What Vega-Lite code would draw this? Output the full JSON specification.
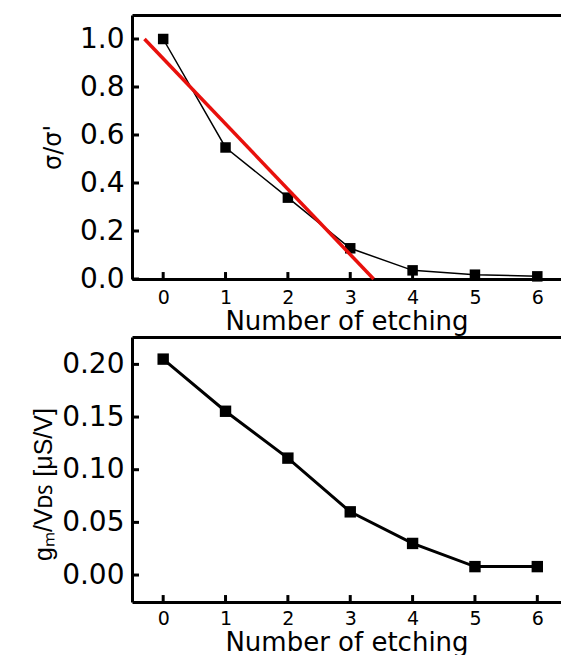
{
  "$schema": "https://vega.github.io/schema/vega-lite/v6.json",
  "padding": {"left": 31, "top": 15, "right": 0, "bottom": 0},
  "background": "white",
  "config": {
    "view": {"stroke": null},
    "font": "DejaVu Sans",
    "axis": {
      "grid": false,
      "domainColor": "black",
      "domainWidth": 3,
      "ticks": false,
      "tickSize": 0,
      "labelColor": "black",
      "titleColor": "black",
      "labelFont": "DejaVu Sans",
      "titleFont": "DejaVu Sans",
      "titleFontWeight": "normal"
    }
  },
  "datasets": {
    "sigma": [
      {"n": 0, "v": 1.0},
      {"n": 1, "v": 0.548},
      {"n": 2, "v": 0.339},
      {"n": 3, "v": 0.128},
      {"n": 4, "v": 0.036},
      {"n": 5, "v": 0.018},
      {"n": 6, "v": 0.011}
    ],
    "fit": [
      {"n": -0.3, "v": 1.0},
      {"n": 3.375, "v": 0.0}
    ],
    "gm": [
      {"n": 0, "v": 0.205},
      {"n": 1, "v": 0.1555},
      {"n": 2, "v": 0.111},
      {"n": 3, "v": 0.060},
      {"n": 4, "v": 0.030},
      {"n": 5, "v": 0.008},
      {"n": 6, "v": 0.008}
    ],
    "xticks": [{"t": 0}, {"t": 1}, {"t": 2}, {"t": 3}, {"t": 4}, {"t": 5}, {"t": 6}],
    "yticksA": [{"t": 0}, {"t": 0.2}, {"t": 0.4}, {"t": 0.6}, {"t": 0.8}, {"t": 1.0}],
    "yticksB": [{"t": 0}, {"t": 0.05}, {"t": 0.1}, {"t": 0.15}, {"t": 0.2}]
  },
  "bounds": "flush",
  "spacing": 58,
  "vconcat": [
    {
      "width": 429,
      "height": 264,
      "resolve": {"axis": {"x": "independent", "y": "independent"}},
      "layer": [
        {
          "data": {"name": "sigma"},
          "mark": {"type": "line", "color": "black", "strokeWidth": 1.5,
                   "point": {"shape": "square", "size": 110, "filled": true, "color": "black"}},
          "encoding": {
            "x": {"field": "n", "type": "quantitative",
                  "scale": {"domain": [-0.5, 6.38], "nice": false, "zero": false},
                  "axis": {"orient": "bottom", "values": [0, 1, 2, 3, 4, 5, 6], "format": "d", "labelFontSize": 19,
                           "labelPadding": 9, "title": "Number of etching", "titleFontSize": 26, "titlePadding": 1}},
            "y": {"field": "v", "type": "quantitative",
                  "scale": {"domain": [0, 1.1], "nice": false},
                  "axis": {"orient": "left", "values": [0, 0.2, 0.4, 0.6, 0.8, 1.0], "format": ".1f", "labelFontSize": 28,
                           "labelPadding": 8, "title": "σ/σ'", "titleFontSize": 24, "titlePadding": 14}}
          }
        },
        {
          "data": {"name": "xticks"},
          "mark": {"type": "rule", "color": "black", "strokeWidth": 3},
          "encoding": {
            "x": {"field": "t", "type": "quantitative", "axis": null},
            "y": {"datum": 0, "type": "quantitative", "axis": null},
            "y2": {"datum": 0.029}
          }
        },
        {
          "data": {"name": "yticksA"},
          "mark": {"type": "rule", "color": "black", "strokeWidth": 3},
          "encoding": {
            "y": {"field": "t", "type": "quantitative", "axis": null},
            "x": {"datum": -0.5, "type": "quantitative", "axis": null},
            "x2": {"datum": -0.388}
          }
        },
        {
          "data": {"name": "fit"},
          "mark": {"type": "line", "color": "#e8100c", "strokeWidth": 3.5},
          "encoding": {
            "x": {"field": "n", "type": "quantitative",
                  "axis": {"orient": "top", "labels": false, "title": null}},
            "y": {"field": "v", "type": "quantitative", "axis": null}
          }
        },
        {
          "mark": {"type": "text", "text": "(a)", "fontSize": 21, "align": "left", "baseline": "middle", "color": "black"},
          "encoding": {
            "x": {"datum": 5.87, "type": "quantitative", "axis": null},
            "y": {"datum": 1.035, "type": "quantitative", "axis": null}
          }
        }
      ]
    },
    {
      "width": 429,
      "height": 265,
      "resolve": {"axis": {"x": "independent", "y": "independent"}},
      "layer": [
        {
          "data": {"name": "gm"},
          "mark": {"type": "line", "color": "black", "strokeWidth": 3,
                   "point": {"shape": "square", "size": 130, "filled": true, "color": "black"}},
          "encoding": {
            "x": {"field": "n", "type": "quantitative",
                  "scale": {"domain": [-0.5, 6.38], "nice": false, "zero": false},
                  "axis": {"orient": "bottom", "values": [0, 1, 2, 3, 4, 5, 6], "format": "d", "labelFontSize": 19,
                           "labelPadding": 7, "title": "Number of etching", "titleFontSize": 26, "titlePadding": 1}},
            "y": {"field": "v", "type": "quantitative",
                  "scale": {"domain": [-0.0256, 0.226], "nice": false, "zero": false},
                  "axis": {"orient": "left", "values": [0, 0.05, 0.1, 0.15, 0.2], "format": ".2f", "labelFontSize": 28,
                           "labelPadding": 8, "title": "gₘ/Vᴅꜱ [μS/V]", "titleFont": "Liberation Sans", "titleFontSize": 25,
                           "titlePadding": 5, "titleY": 147}}
          }
        },
        {
          "data": {"name": "xticks"},
          "mark": {"type": "rule", "color": "black", "strokeWidth": 3},
          "encoding": {
            "x": {"field": "t", "type": "quantitative", "axis": null},
            "y": {"datum": -0.0256, "type": "quantitative", "axis": null},
            "y2": {"datum": -0.019}
          }
        },
        {
          "data": {"name": "yticksB"},
          "mark": {"type": "rule", "color": "black", "strokeWidth": 3},
          "encoding": {
            "y": {"field": "t", "type": "quantitative", "axis": null},
            "x": {"datum": -0.5, "type": "quantitative", "axis": null},
            "x2": {"datum": -0.388}
          }
        },
        {
          "data": {"name": "gm"},
          "mark": {"type": "line", "opacity": 0},
          "encoding": {
            "x": {"field": "n", "type": "quantitative",
                  "axis": {"orient": "top", "labels": false, "title": null}},
            "y": {"field": "v", "type": "quantitative", "axis": null}
          }
        },
        {
          "mark": {"type": "text", "text": "(b)", "fontSize": 21, "align": "left", "baseline": "middle", "color": "black"},
          "encoding": {
            "x": {"datum": 5.87, "type": "quantitative", "axis": null},
            "y": {"datum": 0.21, "type": "quantitative", "axis": null}
          }
        }
      ]
    }
  ]
}
